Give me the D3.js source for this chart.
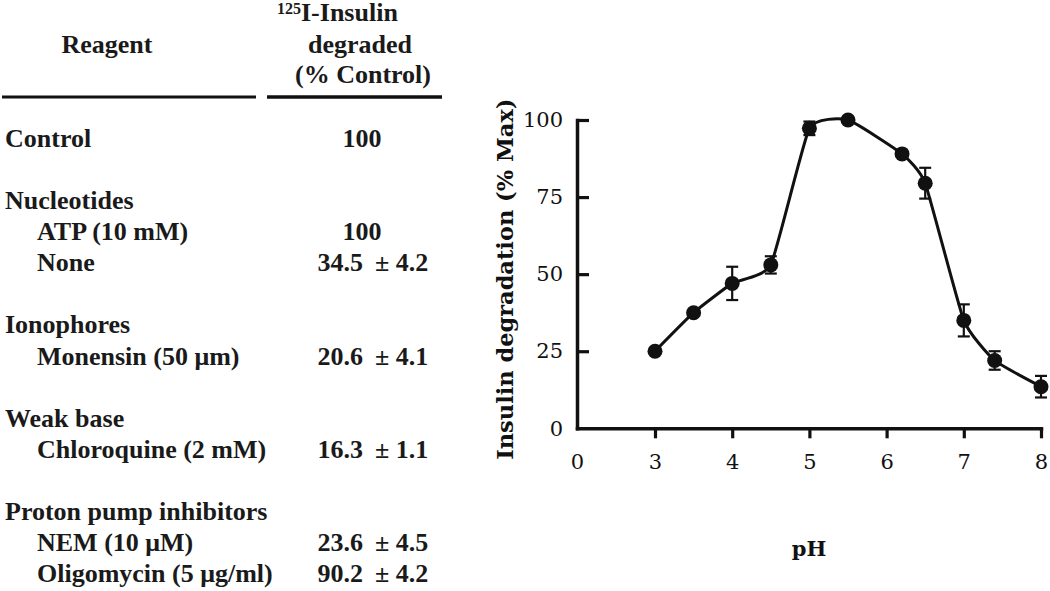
<!DOCTYPE html>
<html>
<head>
<meta charset="utf-8">
<script src="https://cdn.jsdelivr.net/npm/d3@7/dist/d3.min.js"></script>
<style>
  html, body { margin: 0; padding: 0; background: #fff; }
  svg { display: block; }
</style>
</head>
<body>
<svg id="fig" width="1050" height="591"></svg>
<script>
// ---------- Table data ----------
const rowLabels = ["Control", "Nucleotides", "ATP (10 mM)", "None", "Ionophores",
  "Monensin (50 μm)", "Weak base", "Chloroquine (2 mM)", "Proton pump inhibitors",
  "NEM (10 μM)", "Oligomycin (5 μg/ml)"];
const rowLevel = [0, 0, 1, 1, 0, 1, 0, 1, 0, 1, 1];
const rowMean = ["100", "", "100", "34.5", "", "20.6", "", "16.3", "", "23.6", "90.2"];
const rowErr  = ["", "", "", "4.2", "", "4.1", "", "1.1", "", "4.5", "4.2"];

// ---------- Chart data ----------
const pH = [3, 3.5, 4, 4.5, 5, 5.5, 6.2, 6.5, 7, 7.4, 8];
const degradation = [25, 37.5, 47, 53, 97.3, 100, 89, 79.5, 35, 22, 13.5];
const sem = [0, 0, 5.4, 2.8, 2.2, 0, 0, 5, 5.2, 3, 3.5];
const xTicks = [0, 3, 4, 5, 6, 7, 8];
const yTicks = [0, 25, 50, 75, 100];

const svg = d3.select("#fig");
const tableFont = "'Liberation Serif', 'Times New Roman', serif";
const chartFont = "'DejaVu Serif', serif";

// ---------- Table ----------
const tbl = svg.append("g").attr("font-family", tableFont).attr("font-weight", "bold")
  .attr("font-size", 26).attr("fill", "#1a1a1a");

tbl.append("text").attr("x", 107).attr("y", 53).attr("text-anchor", "middle").text("Reagent");
const h1 = tbl.append("text").attr("x", 277).attr("y", 21);
h1.append("tspan").attr("font-size", 16).attr("dy", -7).text("125");
h1.append("tspan").attr("dy", 7).text("I-Insulin");
tbl.append("text").attr("x", 360).attr("y", 53).attr("text-anchor", "middle").text("degraded");
tbl.append("text").attr("x", 363).attr("y", 83).attr("text-anchor", "middle").text("(% Control)");

tbl.append("line").attr("x1", 2).attr("x2", 256).attr("y1", 97).attr("y2", 97)
  .attr("stroke", "#111").attr("stroke-width", 3);
tbl.append("line").attr("x1", 267).attr("x2", 442).attr("y1", 97).attr("y2", 97)
  .attr("stroke", "#111").attr("stroke-width", 3.5);

// slot index: blank line before each new top-level group
const slots = [];
rowLabels.forEach((d, i) => {
  if (i === 0) slots.push(0);
  else slots.push(slots[i - 1] + (rowLevel[i] === 0 ? 2 : 1));
});
const rowY = d3.scaleLinear().domain([0, d3.max(slots)]).range([147, 582]);

rowLabels.forEach((lab, i) => {
  const y = rowY(slots[i]);
  tbl.append("text").attr("x", rowLevel[i] ? 37 : 5).attr("y", y).text(lab);
  if (rowMean[i]) {
    if (rowErr[i]) {
      tbl.append("text").attr("x", 363).attr("y", y).attr("text-anchor", "end").text(rowMean[i]);
      tbl.append("text").attr("x", 375).attr("y", y).text("± " + rowErr[i]);
    } else {
      tbl.append("text").attr("x", 362).attr("y", y).attr("text-anchor", "middle").text(rowMean[i]);
    }
  }
});

// ---------- Chart ----------
const x = d3.scaleLinear().domain([0, 3, 8]).range([577, 655, 1041]);
const y = d3.scaleLinear().domain([0, 100]).range([428.3, 120]);

const chart = svg.append("g").attr("font-family", chartFont);

const xAxis = chart.append("g").attr("transform", `translate(0,${y(0)})`)
  .call(d3.axisBottom(x).tickValues(xTicks).tickFormat(d3.format("d"))
    .tickSizeInner(10).tickSizeOuter(0).tickPadding(16));
xAxis.selectAll(".tick").filter(d => d === 0).select("line").remove();

const yAxis = chart.append("g").attr("transform", `translate(${x(0)},0)`)
  .call(d3.axisLeft(y).tickValues(yTicks).tickFormat(d3.format("d"))
    .tickSizeInner(-12).tickSizeOuter(0).tickPadding(14));

[xAxis, yAxis].forEach(a => {
  a.select(".domain").attr("stroke", "#111").attr("stroke-width", 3.5).attr("stroke-linecap", "square");
  a.selectAll(".tick line").attr("stroke", "#111").attr("stroke-width", 3.2);
  a.selectAll(".tick text").attr("font-size", 21).attr("fill", "#111").attr("font-family", chartFont);
});
yAxis.selectAll(".tick").filter(d => d === 0).select("line").remove();

// titles
chart.append("text").attr("x", 809).attr("y", 556).attr("text-anchor", "middle")
  .attr("font-weight", "bold").attr("font-size", 21).attr("fill", "#111").text("pH");
chart.append("text")
  .attr("transform", `translate(513,${(y(0) + y(100)) / 2 + 5}) rotate(-90)`)
  .attr("text-anchor", "middle").attr("font-weight", "bold").attr("font-size", 22.5)
  .attr("fill", "#111").text("Insulin degradation (% Max)");

const pts = pH.map((p, i) => ({ p, v: degradation[i], e: sem[i] }));

// curve
chart.append("path").datum(pts)
  .attr("d", d3.line().x(d => x(d.p)).y(d => y(d.v)).curve(d3.curveCardinal.tension(0.55)))
  .attr("fill", "none").attr("stroke", "#111").attr("stroke-width", 3);

// error bars
const eb = chart.append("g").attr("stroke", "#111").attr("stroke-width", 2.2);
pts.filter(d => d.e > 0).forEach(d => {
  const cx = x(d.p);
  eb.append("line").attr("x1", cx).attr("x2", cx).attr("y1", y(d.v - d.e)).attr("y2", y(d.v + d.e));
  eb.append("line").attr("x1", cx - 6).attr("x2", cx + 6).attr("y1", y(d.v + d.e)).attr("y2", y(d.v + d.e));
  eb.append("line").attr("x1", cx - 6).attr("x2", cx + 6).attr("y1", y(d.v - d.e)).attr("y2", y(d.v - d.e));
});

// markers
chart.append("g").selectAll("circle").data(pts).join("circle")
  .attr("cx", d => x(d.p)).attr("cy", d => y(d.v)).attr("r", 7.5).attr("fill", "#111");
</script>
</body>
</html>
